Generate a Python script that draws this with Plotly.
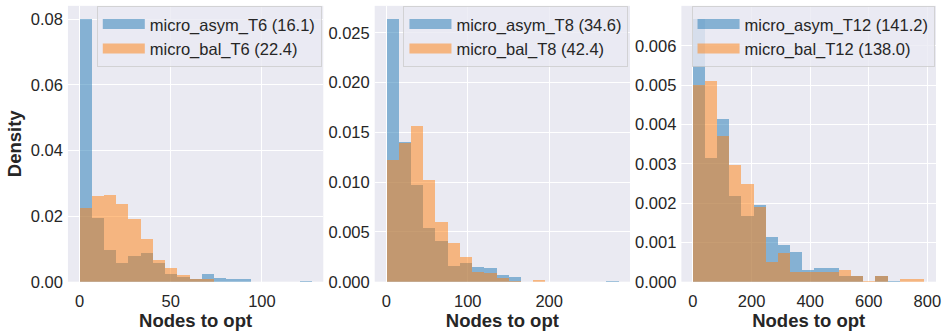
import plotly.graph_objects as go

# ---------------- data ----------------
panel_titles = ["T6", "T8", "T12"]

t6_bin_width = 6.7
t6_asym = [0.0801, 0.0195, 0.0098, 0.0059, 0.0079, 0.0087, 0.0057, 0.0025, 0.0015, 0.0010,
           0.0025, 0.0013, 0.0010, 0.0010, 0, 0, 0, 0, 0.0004]
t6_bal = [0.0225, 0.0263, 0.0266, 0.0238, 0.0192, 0.0131, 0.0067, 0.0043, 0.0022, 0.0008,
          0.0008, 0, 0, 0, 0, 0, 0, 0, 0]
t6_names = ["micro_asym_T6 (16.1)", "micro_bal_T6 (22.4)"]

t8_bin_width = 15.0
t8_asym = [0.0264, 0.0141, 0.0097, 0.0054, 0.0041, 0.0016, 0.0019, 0.0015, 0.0014, 0.0007,
           0.0005, 0, 0, 0, 0, 0, 0, 0, 0.0001]
t8_bal = [0.0122, 0.0140, 0.0157, 0.0102, 0.0060, 0.0039, 0.0025, 0.0010, 0.0009, 0.0004,
          0.0001, 0, 0.0002, 0, 0, 0, 0, 0, 0]
t8_names = ["micro_asym_T8 (34.6)", "micro_bal_T8 (42.4)"]

t12_bin_width = 41.58
t12_asym = [0.00668, 0.00316, 0.00415, 0.00218, 0.00167, 0.00196, 0.00113, 0.00093, 0.00076, 0.00029,
            0.00035, 0.00036, 0.00015, 0.00016, 0, 0.00016, 0.00003, 0, 0]
t12_bal = [0.00500, 0.00511, 0.00371, 0.00297, 0.00250, 0.00191, 0.00051, 0.00074, 0.00025, 0.00025,
           0.00026, 0.00026, 0.00031, 0.00016, 0.00003, 0.00016, 0, 0.00008, 0.00008]
t12_names = ["micro_asym_T12 (141.2)", "micro_bal_T12 (138.0)"]

x_ticks = [[0, 50, 100], [0, 100, 200], [0, 200, 400, 600, 800]]
y_ticks = [[0, 0.02, 0.04, 0.06, 0.08],
           [0, 0.005, 0.010, 0.015, 0.020, 0.025],
           [0, 0.001, 0.002, 0.003, 0.004, 0.005, 0.006]]
y_formats = [".2f", ".3f", ".3f"]
x_label = "Nodes to opt"
y_label = "Density"

# ---------------- styling / layout ----------------
W, H = 947, 335
FONT = "Liberation Sans, Arial, sans-serif"
TXT = "#262626"
BG = "#EAEAF2"
BLUE = "rgba(31,119,180,0.5)"
ORANGE = "rgba(255,127,14,0.5)"

panels = [
    (t6_bin_width, t6_asym, t6_bal, t6_names),
    (t8_bin_width, t8_asym, t8_bal, t8_names),
    (t12_bin_width, t12_asym, t12_bal, t12_names),
]
px_x = [(68.3, 325.0), (376.7, 633.3), (685.0, 941.0)]
px_top, px_bottom = 6.0, 289.5

fig = go.Figure()
for i, (bw, asym, bal, names) in enumerate(panels):
    k = "" if i == 0 else str(i + 1)
    xa, ya = "x" + k, "y" + k
    leg = "legend" + k
    n = len(asym)
    centers = [(j + 0.5) * bw for j in range(n)]
    for vals, col in ((asym, BLUE), (bal, ORANGE)):
        fig.add_trace(go.Bar(x=centers, y=vals, width=[bw] * n, xaxis=xa, yaxis=ya,
                             marker=dict(color=col, line=dict(width=0)),
                             showlegend=False, hoverinfo="x+y"))
    for name, col in zip(names, (BLUE, ORANGE)):
        fig.add_trace(go.Scatter(x=[None], y=[None], mode="lines", name=name,
                                 line=dict(color=col, width=10), xaxis=xa, yaxis=ya,
                                 legend=leg, showlegend=True))
    data_max = n * bw
    pad = 0.05 * data_max
    ymax = 1.05 * max(max(asym), max(bal))
    x0, x1 = px_x[i]
    axis_common = dict(showgrid=True, gridcolor="white", gridwidth=1, zeroline=False,
                       showline=False, ticks="", tickfont=dict(family=FONT, size=16.5, color=TXT))
    fig.layout["xaxis" + k] = dict(
        domain=[x0 / W, x1 / W], anchor=ya, range=[-pad, data_max + pad],
        tickvals=x_ticks[i], ticklabelstandoff=8,
        title=dict(text=x_label, standoff=3,
                   font=dict(family=FONT, size=18.5, color=TXT, weight="bold")),
        **axis_common)
    ydict = dict(
        domain=[(H - px_bottom) / H, (H - px_top) / H], anchor=xa, range=[0, ymax],
        tickvals=y_ticks[i], tickformat=y_formats[i], ticklabelstandoff=4, **axis_common)
    if i == 0:
        ydict["title"] = dict(text=y_label, standoff=4,
                              font=dict(family=FONT, size=18.5, color=TXT, weight="bold"))
    fig.layout["yaxis" + k] = ydict
    fig.layout[leg] = dict(x=(x1 - 1.5) / W, y=(H - px_top) / H, xanchor="right", yanchor="top",
                           bgcolor="rgba(234,234,242,0.8)", bordercolor="rgba(204,204,204,0.8)",
                           borderwidth=1, font=dict(family=FONT, size=16.5, color=TXT),
                           itemwidth=42)

fig.update_layout(width=W, height=H, autosize=False, margin=dict(l=0, r=0, t=0, b=0),
                  paper_bgcolor="white", plot_bgcolor=BG, barmode="overlay", bargap=0,
                  font=dict(family=FONT, color=TXT))
fig.write_html("out.html")
